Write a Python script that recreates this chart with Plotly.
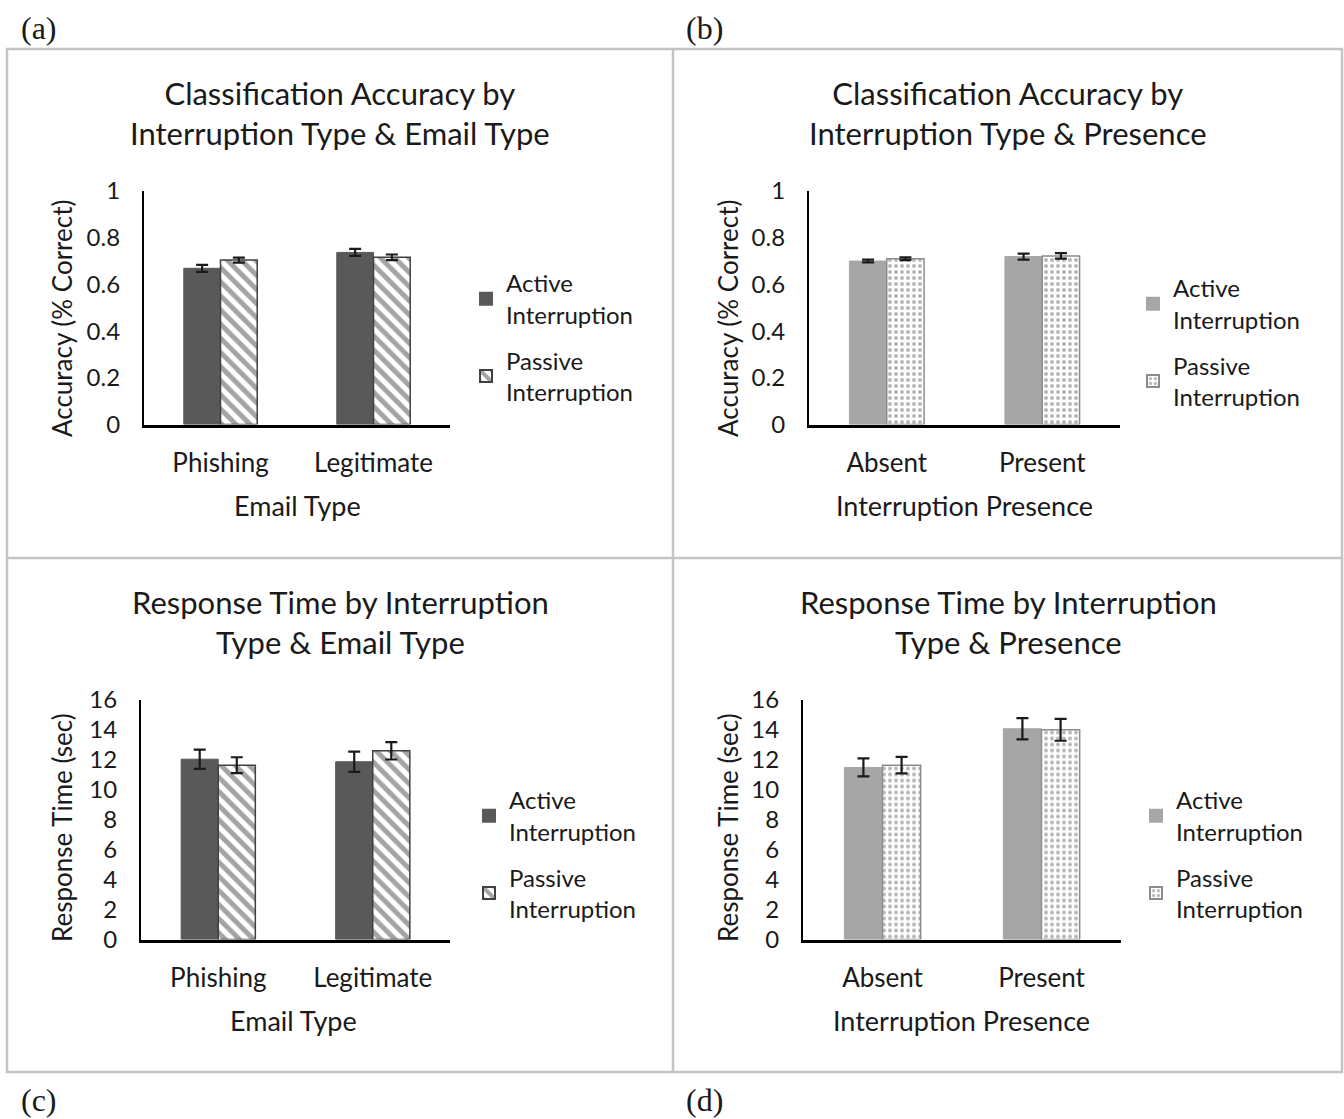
import plotly.graph_objects as go

W, H = 1344, 1119

email_types = ["Phishing", "Legitimate"]
presence = ["Absent", "Present"]
series_names = ["Active<br>Interruption", "Passive<br>Interruption"]

acc_email_active = [0.669, 0.737]
acc_email_active_err = [0.015, 0.015]
acc_email_passive = [0.704, 0.716]
acc_email_passive_err = [0.011, 0.012]

acc_pres_active = [0.700, 0.719]
acc_pres_active_err = [0.006, 0.013]
acc_pres_passive = [0.710, 0.722]
acc_pres_passive_err = [0.006, 0.012]

rt_email_active = [12.02, 11.85]
rt_email_active_err = [0.64, 0.68]
rt_email_passive = [11.62, 12.58]
rt_email_passive_err = [0.53, 0.58]

rt_pres_active = [11.47, 14.05]
rt_pres_active_err = [0.60, 0.71]
rt_pres_passive = [11.62, 13.98]
rt_pres_passive_err = [0.55, 0.73]

FONT = "Lato"
TXT = "#1a1a1a"


def px(x):
    return x / W


def py(y):
    return 1 - y / H


fig = go.Figure()

dark = dict(color="#595959", line=dict(color="#595959", width=1))
hatch = dict(color="white",
             pattern=dict(shape="\\", fgcolor="#4a4a4a", bgcolor="white", size=10, solidity=0.5),
             line=dict(color="#404040", width=1.5))
light = dict(color="#a6a6a6", line=dict(color="#a6a6a6", width=1))
dots = dict(color="white",
            pattern=dict(shape=".", fgcolor="#6e6e6e", bgcolor="white", size=6, solidity=0.35),
            line=dict(color="#8c8c8c", width=1.5))

err = dict(type="data", color="#1a1a1a", thickness=2.2, width=6, visible=True)

panels = [
    ("x", "y", "legend", email_types, acc_email_active, acc_email_active_err, acc_email_passive, acc_email_passive_err, dark, hatch),
    ("x2", "y2", "legend2", presence, acc_pres_active, acc_pres_active_err, acc_pres_passive, acc_pres_passive_err, light, dots),
    ("x3", "y3", "legend3", email_types, rt_email_active, rt_email_active_err, rt_email_passive, rt_email_passive_err, dark, hatch),
    ("x4", "y4", "legend4", presence, rt_pres_active, rt_pres_active_err, rt_pres_passive, rt_pres_passive_err, light, dots),
]

for xa, ya, lg, cats, a, ae, p, pe, ma, mp in panels:
    fig.add_trace(go.Bar(x=cats, y=a, name=series_names[0], marker=ma,
                         error_y=dict(array=ae, **err), xaxis=xa, yaxis=ya,
                         legend=lg, legendgroup=lg + "a"))
    fig.add_trace(go.Bar(x=cats, y=p, name=series_names[1], marker=mp,
                         error_y=dict(array=pe, **err), xaxis=xa, yaxis=ya,
                         legend=lg, legendgroup=lg + "p"))

# plot area domains (pixels)
dom = {
    "a": dict(x0=144, x1=450, y0=191, y1=424.5),
    "b": dict(x0=809, x1=1120, y0=191, y1=424.5),
    "c": dict(x0=141, x1=450, y0=699.5, y1=939.5),
    "d": dict(x0=803, x1=1121, y0=699.5, y1=939.5),
}

xcommon = dict(showline=True, linecolor="black", linewidth=2.5, ticks="", showgrid=False,
               zeroline=False, tickfont=dict(family=FONT, size=26, color=TXT),
               ticklabelstandoff=14, fixedrange=True, automargin=False)
ycommon = dict(showline=True, linecolor="black", linewidth=2.2, ticks="", showgrid=False,
               zeroline=False, tickfont=dict(family=FONT, size=24, color=TXT),
               ticklabelstandoff=17, fixedrange=True, automargin=False)

layout = dict(
    width=W, height=H, margin=dict(l=0, r=0, t=0, b=0, autoexpand=False),
    paper_bgcolor="white", plot_bgcolor="white",
    barmode="group", bargap=0.52, bargroupgap=0,
)

keys = [("xaxis", "yaxis", "a", "y", [0, 1], 0.2),
        ("xaxis2", "yaxis2", "b", "y2", [0, 1], 0.2),
        ("xaxis3", "yaxis3", "c", "y3", [0, 16], 2),
        ("xaxis4", "yaxis4", "d", "y4", [0, 16], 2)]
for xk, yk, p, anchor_y, rng, dt in keys:
    d = dom[p]
    layout[xk] = dict(domain=[px(d["x0"]), px(d["x1"])], anchor=anchor_y, **xcommon)
    layout[yk] = dict(domain=[py(d["y1"]), py(d["y0"])], anchor=xk.replace("axis", ""),
                      range=rng, dtick=dt, **ycommon)

leg_font = dict(family=FONT, size=24, color=TXT)
legpos = {"legend": (466, 261), "legend2": (1133, 266), "legend3": (469, 778), "legend4": (1136, 778)}
for lg, (lx, ly) in legpos.items():
    layout[lg] = dict(x=px(lx), y=py(ly), xanchor="left", yanchor="top", font=leg_font,
                      bgcolor="rgba(0,0,0,0)", traceorder="grouped", tracegroupgap=12,
                      itemsizing="constant")

fig.update_layout(**layout)

# Titles
titles = [
    ("Classification Accuracy by<br>Interruption Type & Email Type", 340, 113),
    ("Classification Accuracy by<br>Interruption Type & Presence", 1008, 113),
    ("Response Time by Interruption<br>Type & Email Type", 340, 622),
    ("Response Time by Interruption<br>Type & Presence", 1008, 622),
]
for t, cx, cy in titles:
    fig.add_annotation(text=t, x=px(cx), y=py(cy), xref="paper", yref="paper",
                       xanchor="center", yanchor="middle", showarrow=False,
                       font=dict(family=FONT, size=31, color=TXT))

# Axis titles
xtitles = [("Email Type", 297, 506), ("Interruption Presence", 964, 506),
           ("Email Type", 293, 1020), ("Interruption Presence", 961, 1020)]
for t, cx, cy in xtitles:
    fig.add_annotation(text=t, x=px(cx), y=py(cy), xref="paper", yref="paper",
                       xanchor="center", yanchor="middle", showarrow=False,
                       font=dict(family=FONT, size=27, color=TXT))
ytitles = [("Accuracy (% Correct)", 62, 319), ("Accuracy (% Correct)", 728, 319),
           ("Response Time (sec)", 62, 828), ("Response Time (sec)", 728, 828)]
for t, cx, cy in ytitles:
    fig.add_annotation(text=t, x=px(cx), y=py(cy), xref="paper", yref="paper",
                       xanchor="center", yanchor="middle", showarrow=False, textangle=-90,
                       font=dict(family=FONT, size=26, color=TXT))

# Panel letters
letters = [("(a)", 39, 28), ("(b)", 704, 28), ("(c)", 39, 1100), ("(d)", 704, 1100)]
for t, cx, cy in letters:
    fig.add_annotation(text=t, x=px(cx), y=py(cy), xref="paper", yref="paper",
                       xanchor="center", yanchor="middle", showarrow=False,
                       font=dict(family="Liberation Serif", size=32, color=TXT))

# Panel borders
bc = "#c4c4c4"
fig.add_shape(type="rect", x0=px(7), x1=px(1342), y0=py(49), y1=py(1072),
              xref="paper", yref="paper", line=dict(color=bc, width=2.5))
fig.add_shape(type="line", x0=px(673), x1=px(673), y0=py(49), y1=py(1072),
              xref="paper", yref="paper", line=dict(color=bc, width=2.5))
fig.add_shape(type="line", x0=px(7), x1=px(1342), y0=py(558), y1=py(558),
              xref="paper", yref="paper", line=dict(color=bc, width=2.5))

fig.write_html("out.html", config={"displayModeBar": False},
               post_script="document.body.style.margin='0';")
